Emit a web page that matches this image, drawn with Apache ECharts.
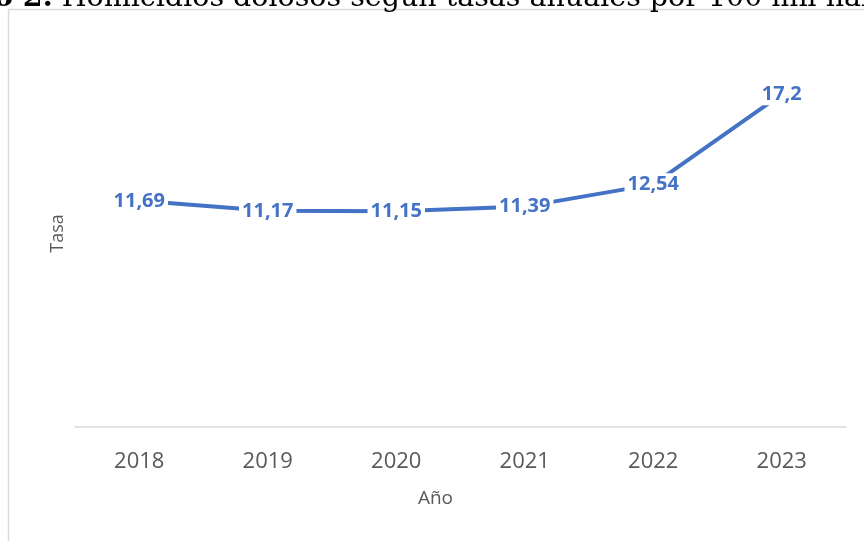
<!DOCTYPE html>
<html>
<head>
<meta charset="utf-8">
<script src="https://cdn.jsdelivr.net/npm/echarts@6/dist/echarts.min.js"></script>
<style>
  html, body { margin: 0; padding: 0; background: #fff; }
  #chart { width: 864px; height: 541px; }
</style>
</head>
<body>
<div id="chart"></div>
<script>
// datos del gráfico
var years = ['2018', '2019', '2020', '2021', '2022', '2023'];
var tasa = [11.69, 11.17, 11.15, 11.39, 12.54, 17.2];
var titleBold = 'Gráfico 2.';
var titleRest = ' Homicidios dolosos según tasas anuales por 100 mil habitantes';

var myChart = echarts.init(document.getElementById('chart'));

myChart.setOption({
  animation: false,
  title: {
    text: '{b|' + titleBold + '}{r|' + titleRest + '}',
    left: -102,
    top: -16,
    padding: 0,
    textStyle: {
      rich: {
        b: { fontFamily: 'DejaVu Serif', fontWeight: 'bold', fontSize: 28.5, color: '#000' },
        r: { fontFamily: 'DejaVu Serif', fontWeight: 'normal', fontSize: 28.5, color: '#000' }
      }
    }
  },
  graphic: [{
    type: 'rect',
    z: -10,
    shape: { x: 8.5, y: 9.5, width: 900, height: 600 },
    style: { fill: 'none', stroke: '#d9d9d9', lineWidth: 1.5 }
  }],
  grid: { left: 75, right: 18, top: 40, bottom: 114 },
  xAxis: {
    type: 'category',
    data: years,
    boundaryGap: true,
    axisLine: { lineStyle: { color: '#d9d9d9', width: 1.5 } },
    axisTick: { show: false },
    axisLabel: { color: '#595959', fontFamily: 'Open Sans', fontSize: 22, margin: 24 },
    name: 'Año',
    nameLocation: 'middle',
    nameGap: 62,
    nameTextStyle: { color: '#595959', fontFamily: 'Open Sans', fontSize: 19, padding: [0, 50, 0, 0] }
  },
  yAxis: {
    type: 'value',
    min: 0,
    max: 20,
    axisLine: { show: false },
    axisTick: { show: false },
    axisLabel: { show: false },
    splitLine: { show: false },
    name: 'Tasa',
    nameLocation: 'middle',
    nameGap: 8,
    nameTextStyle: { color: '#595959', fontFamily: 'Open Sans', fontSize: 18 }
  },
  series: [{
    type: 'line',
    data: tasa,
    symbol: 'circle',
    symbolSize: 0,
    showSymbol: true,
    itemStyle: { color: '#4472C4' },
    lineStyle: { color: '#4472C4', width: 4, cap: 'round' },
    label: {
      show: true,
      position: 'inside',
      color: '#4472C4',
      fontFamily: 'Open Sans',
      fontWeight: 'bold',
      fontSize: 20,
      backgroundColor: '#fff',
      padding: [1, 3],
      formatter: function (p) {
        return String(p.value).replace('.', ',');
      }
    }
  }]
});
</script>
</body>
</html>
